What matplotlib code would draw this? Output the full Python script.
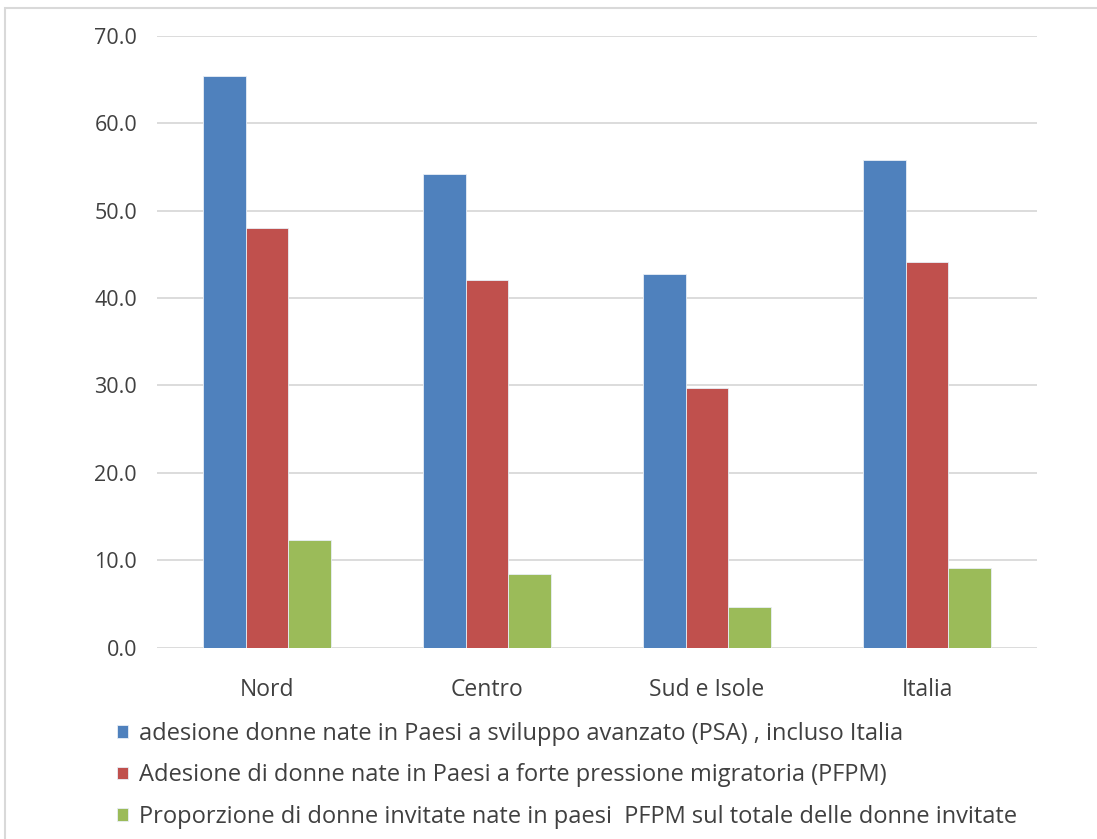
import numpy as np
import matplotlib
matplotlib.use("Agg")
import matplotlib.pyplot as plt
from matplotlib.patches import Rectangle

# Dati
categorie = ["Nord", "Centro", "Sud e Isole", "Italia"]
adesione_psa = [65.4, 54.2, 42.7, 55.8]
adesione_pfpm = [48.0, 42.1, 29.7, 44.1]
proporzione_pfpm = [12.3, 8.4, 4.7, 9.1]
etichette = [
    "adesione donne nate in Paesi a sviluppo avanzato (PSA) , incluso Italia",
    "Adesione di donne nate in Paesi a forte pressione migratoria (PFPM)",
    "Proporzione di donne invitate nate in paesi  PFPM sul totale delle donne invitate",
]
colori = ["#4F81BD", "#C0504D", "#9BBB59"]
yticks = [0, 10, 20, 30, 40, 50, 60, 70]

plt.rcParams['font.family'] = ['Open Sans', 'DejaVu Sans']
testo = "#404040"

W, H = 1097, 839
fig = plt.figure(figsize=(W / 100, H / 100), dpi=100)
ax = fig.add_axes([157 / W, 1 - 647.7 / H, 880 / W, 612 / H])

x = np.arange(len(categorie)) + 0.5
larg = 0.193
serie = [adesione_psa, adesione_pfpm, proporzione_pfpm]
for i, (vals, col, lab) in enumerate(zip(serie, colori, etichette)):
    ax.bar(x + (i - 1) * larg, vals, width=larg, color=col, label=lab,
           edgecolor="#E8EEF6", linewidth=0.6, zorder=3)

ax.set_xlim(0, len(categorie))
ax.set_ylim(0, 70)
ax.set_yticks(yticks)
ax.set_yticklabels([f"{v:.1f}" for v in yticks])
ax.set_xticks(x)
ax.set_xticklabels(categorie)
ax.tick_params(axis="both", length=0, colors=testo)
ax.tick_params(axis="y", pad=14.4, labelsize=15.5)
ax.tick_params(axis="x", pad=21.5, labelsize=16.5)
ax.grid(axis="y", color="#D9D9D9", linewidth=1.3, zorder=0)
for s in ax.spines.values():
    s.set_visible(False)

leg = fig.legend(loc="upper left", bbox_to_anchor=(117 / W, 1 - 722 / H),
                 frameon=False, fontsize=17, handlelength=0.45,
                 handleheight=0.45, handletextpad=0.5, labelspacing=0.74,
                 borderaxespad=0, borderpad=0)
for t in leg.get_texts():
    t.set_color(testo)

# cornice esterna
fig.patches.append(Rectangle((5 / W, -0.05), 1.2, 1 - 7.5 / H + 0.05,
                             transform=fig.transFigure, fill=False,
                             edgecolor="#D9D9D9", linewidth=1.5))

fig.savefig("out.png", dpi=100)
